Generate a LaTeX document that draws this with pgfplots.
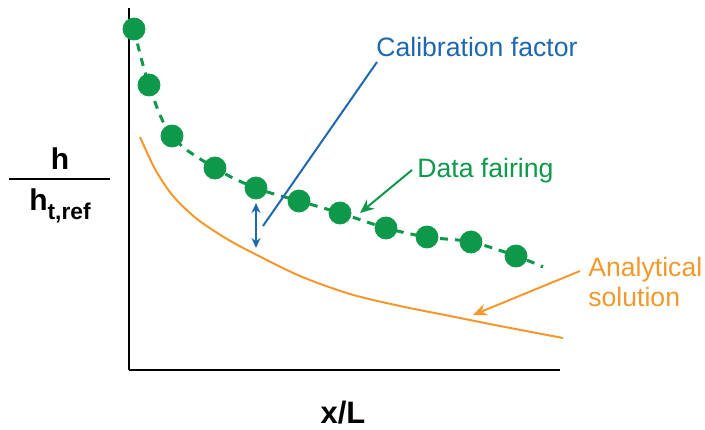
\documentclass[border=0pt]{standalone}
\usepackage{fontspec}
\setmainfont{Liberation Sans}
\usepackage{pgfplots}
\pgfplotsset{compat=1.18}
\usetikzlibrary{arrows.meta}
\definecolor{cgreen}{RGB}{14,152,74}
\definecolor{cblue}{RGB}{30,104,176}
\definecolor{corange}{RGB}{243,152,44}
\begin{document}
\begin{tikzpicture}
\useasboundingbox (-64.5pt,-29.5pt) rectangle (288pt,185pt);
\begin{axis}[
  at={(0,0)}, anchor=origin,
  scale only axis, width=215.5pt, height=181pt,
  xmin=0, xmax=431, ymin=0, ymax=362,
  axis lines=left, x axis line style={-}, y axis line style={-},
  axis line style={line width=1.2pt, black},
  ticks=none, clip=false,
]
% analytical solution
\addplot[corange, line width=1pt, smooth, tension=0.5] coordinates {
(11,233) (26,201) (44,174) (68,151) (98,131) (124,117) (171,94) (221,76) (271,64) (321,54) (371,44) (434,32)};
% data fairing (dashed)
\addplot[cgreen, line width=1.5pt, dash pattern=on 4pt off 3.5pt, smooth, tension=0.6] coordinates {
(5,341) (20,285) (43,234) (86,202) (127,182) (170,169) (211,157) (257,142) (298,133) (342,128) (387,114) (414,103)};
% data points
\addplot[only marks, mark=*, mark size=5.5pt, mark options={fill=cgreen, draw=cgreen}] coordinates {
(5,341) (20,285) (43,234) (86,202) (127,182) (170,169) (211,157) (257,142) (298,133) (342,128) (387,114)};
% calibration factor double arrow and leader
\draw[cblue, line width=1pt, {Stealth[length=5pt,width=4.5pt]}-{Stealth[length=5pt,width=4.5pt]}] (axis cs:127,167) -- (axis cs:127,122);
\draw[cblue, line width=1pt] (axis cs:134,144) -- (axis cs:248,308);
\node[anchor=base west, inner sep=0, text=cblue, font=\fontsize{13.3}{16}\selectfont] at (axis cs:247,313) {Calibration factor};
% data fairing label
\draw[cgreen, line width=1pt, -{Stealth[length=7pt,width=6pt]}] (axis cs:283,200) -- (axis cs:231,157);
\node[anchor=base west, inner sep=0, text=cgreen, font=\fontsize{13.3}{16}\selectfont] at (axis cs:288,193) {Data fairing};
% analytical solution label
\draw[corange, line width=1pt, -{Stealth[length=7pt,width=6pt]}] (axis cs:451,99) -- (axis cs:344,55);
\node[anchor=base west, inner sep=0, text=corange, font=\fontsize{13.3}{16}\selectfont] at (axis cs:459,94) {Analytical};
\node[anchor=base west, inner sep=0, text=corange, font=\fontsize{13.3}{16}\selectfont] at (axis cs:459,64) {solution};
% y label as fraction
\node[anchor=base, inner sep=0, font=\bfseries\fontsize{15}{18}\selectfont] at (axis cs:-69,201) {h};
\draw[line width=1pt] (axis cs:-120,191) -- (axis cs:-19,191);
\node[anchor=base, inner sep=0, font=\bfseries\fontsize{15}{18}\selectfont] at (axis cs:-69,160) {h\raisebox{-4.5pt}{\fontsize{11.4}{13}\selectfont t,ref}};
% x label
\node[anchor=base, inner sep=0, font=\bfseries\fontsize{15.5}{18}\selectfont] at (axis cs:214,-53) {x/L};
\end{axis}
\end{tikzpicture}
\end{document}
